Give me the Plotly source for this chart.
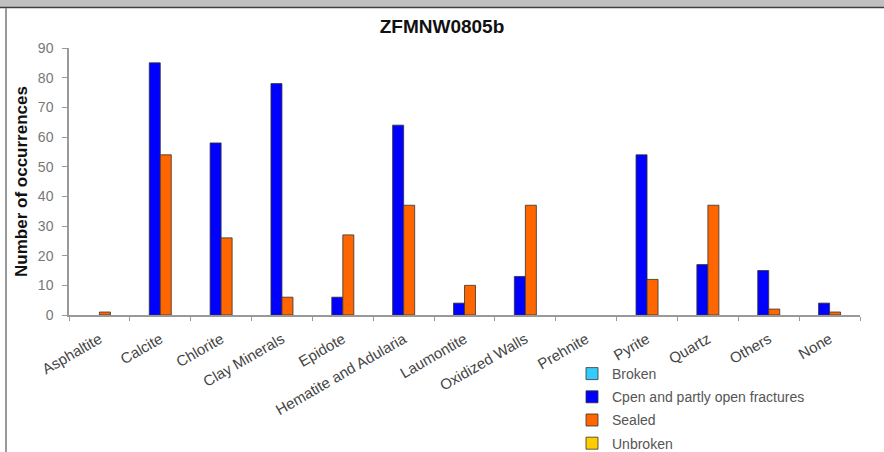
import plotly.graph_objects as go

categories = ["Asphaltite", "Calcite", "Chlorite", "Clay Minerals", "Epidote",
              "Hematite and Adularia", "Laumontite", "Oxidized Walls", "Prehnite",
              "Pyrite", "Quartz", "Others", "None"]
broken = [0, 0, 0, 0, 0, 0, 0, 0, 0, 0, 0, 0, 0]
open_fractures = [0, 85, 58, 78, 6, 64, 4, 13, 0, 54, 17, 15, 4]
sealed = [1, 54, 26, 6, 27, 37, 10, 37, 0, 12, 37, 2, 1]
unbroken = [0, 0, 0, 0, 0, 0, 0, 0, 0, 0, 0, 0, 0]

series_names = ["Broken", "Cpen and partly open fractures", "Sealed", "Unbroken"]
series_values = [broken, open_fractures, sealed, unbroken]
series_colors = ["#33CCFF", "#0000FF", "#FF6600", "#FFCC00"]

W, H = 884, 452
L, R, T, B = 69, 860, 48, 315  # plot area in pixels

def px_x(x):
    return (x - L) / (R - L)

def px_y(y):
    return (B - y) / (B - T)

fig = go.Figure()
for name, vals, col in zip(series_names, series_values, series_colors):
    # Excel draws nothing for zero-valued bars
    shown = [v if v != 0 else None for v in vals]
    fig.add_trace(go.Bar(
        x=categories, y=shown, name=name, legendgroup=name,
        marker=dict(color=col, line=dict(color="#333333", width=0.8)),
    ))

fig.update_layout(
    width=W, height=H,
    margin=dict(l=L, r=W - R, t=T, b=H - B, autoexpand=False),
    paper_bgcolor="white", plot_bgcolor="white",
    barmode="group", bargap=0.276, bargroupgap=0,
    font=dict(family="Arial, Liberation Sans, sans-serif", color="#444444"),
    title=dict(text="<b>ZFMNW0805b</b>", x=0.5, xanchor="center",
               y=1 - 26 / H, yanchor="middle",
               font=dict(size=19, color="#111111")),
    showlegend=True,
    legend=dict(x=px_x(572), y=px_y(358), xanchor="left", yanchor="top",
                font=dict(size=14, color="#555555"), tracegroupgap=2,
                bgcolor="rgba(0,0,0,0)", traceorder="grouped",
                itemwidth=30),
    xaxis=dict(showline=True, linecolor="#999999", linewidth=1.5,
               ticks="outside", ticklen=4, tickcolor="#999999",
               tickson="boundaries", tickangle=-30, ticklabelstandoff=8,
               tickfont=dict(size=15, color="#444444"),
               showgrid=False, zeroline=False),
    yaxis=dict(range=[0, 90], dtick=10, showline=True, linecolor="#999999",
               linewidth=1.5, ticks="outside", ticklen=5, tickcolor="#999999",
               ticklabelstandoff=6,
               tickfont=dict(size=14, color="#777777"),
               showgrid=False, zeroline=False,
               title=dict(text="<b>Number of occurrences</b>", standoff=6,
                          font=dict(size=17, color="#111111"))),
    shapes=[
        dict(type="rect", xref="paper", yref="paper",
             x0=px_x(0), x1=px_x(W), y0=px_y(7), y1=px_y(0),
             fillcolor="#C0C0C0", line=dict(width=0), layer="above"),
        dict(type="line", xref="paper", yref="paper",
             x0=px_x(0), x1=px_x(W), y0=px_y(7.5), y1=px_y(7.5),
             line=dict(color="#404040", width=1.5)),
        dict(type="line", xref="paper", yref="paper",
             x0=px_x(6), x1=px_x(6), y0=px_y(8), y1=px_y(H),
             line=dict(color="#999999", width=2)),
    ],
)

fig.write_html("out.html", config={"displayModeBar": False},
               post_script="document.body.style.margin='0';document.body.style.overflow='hidden';")
